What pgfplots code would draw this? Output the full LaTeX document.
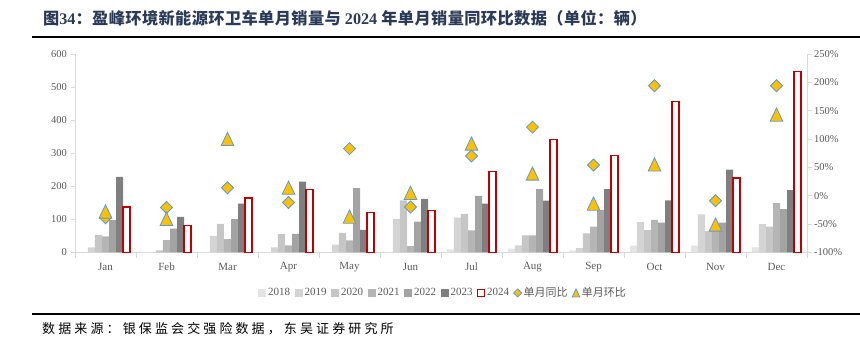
\documentclass[border=0pt]{standalone}
\usepackage{fontspec}
\setmainfont{Liberation Serif}
\newfontfamily\cjk{Noto Sans CJK SC}
\newfontfamily\cjksp[LetterSpace=24]{Noto Sans CJK SC}
\newfontfamily\cjkt[LetterSpace=2.5]{Noto Sans CJK SC}
\usepackage{pgfplots}
\usepackage{pgfplotstable}
\pgfplotsset{compat=1.18}
\definecolor{cA}{HTML}{E4E4E4}
\definecolor{cB}{HTML}{D4D4D4}
\definecolor{cC}{HTML}{C6C6C6}
\definecolor{cD}{HTML}{B5B5B5}
\definecolor{cE}{HTML}{A3A3A3}
\definecolor{cF}{HTML}{7F7F7F}
\definecolor{cred}{HTML}{C00000}
\definecolor{cgold}{HTML}{FFC000}
\definecolor{cblue}{HTML}{5B9BD5}
\definecolor{ctext}{HTML}{595959}
\definecolor{caxis}{HTML}{D9D9D9}
\definecolor{ctitle}{HTML}{2B3B57}

\pgfdeclareplotmark{etri}{%
  \pgfpathmoveto{\pgfqpoint{0pt}{\pgfplotmarksize}}%
  \pgfpathlineto{\pgfqpoint{0.96\pgfplotmarksize}{-\pgfplotmarksize}}%
  \pgfpathlineto{\pgfqpoint{-0.96\pgfplotmarksize}{-\pgfplotmarksize}}%
  \pgfpathclose
  \pgfusepathqfillstroke}
\pgfdeclareplotmark{ediam}{%
  \pgfpathmoveto{\pgfqpoint{0pt}{\pgfplotmarksize}}%
  \pgfpathlineto{\pgfqpoint{\pgfplotmarksize}{0pt}}%
  \pgfpathlineto{\pgfqpoint{0pt}{-\pgfplotmarksize}}%
  \pgfpathlineto{\pgfqpoint{-\pgfplotmarksize}{0pt}}%
  \pgfpathclose
  \pgfusepathqfillstroke}

\pgfplotstableread{
m  a  b   c   d   e   f   g   yoy mom
0  0  15  52  48  97  228 137 -39 -28
1  0  0   6   37  72  107 82  -21 -41
2  0  50  86  40  100 147 164 14  100
3  0  15  55  21  56  214 189 -12 14
4  0  23  59  36  194 68  121 83  -37
5  0  101 157 19  93  162 126 -20 5
6  9  105 116 66  171 147 244 70  92
7  11 21  51  51  191 156 341 121 39
8  5  13  57  78  128 191 293 54  -14
9  20 92  67  98  90  157 456 194 55
10 20 115 64  65  90  250 225 -9  -51
11 15 85  78  149 131 188 547 194 143
}\data

\pgfplotsset{
  base/.style={
    at={(75pt,-252.3pt)}, anchor=south west, scale only axis,
    width=732pt, height=198.3pt, xmin=0, xmax=12,
    axis line style={draw=caxis, line width=0.8pt, -},
    tick label style={font=\fontsize{10.5}{12}\selectfont, text=ctext},
    /pgf/number format/assume math mode=true,
    tick align=outside, major tick length=4.5pt,
    scaled y ticks=false,
  },
  sqleg/.style={legend image code/.code={\path[##1, draw=none] (0pt,-4pt) rectangle (8pt,4pt);}},
  rdleg/.style={legend image code/.code={\path[##1] (0.6pt,-3.4pt) rectangle (7.4pt,3.4pt);}},
  mkleg/.style={legend image code/.code={\draw[##1, mark size=4pt] plot coordinates {(4pt,0pt)};}},
}

\begin{document}
\begin{tikzpicture}
\path[use as bounding box] (0pt,0pt) rectangle (860pt,-352pt);
\node[anchor=west, text=ctitle, inner sep=0pt, font=\fontsize{16.2}{19}\selectfont\bfseries] at (43pt,-18.5pt)
  {{\cjkt 图}34{\cjkt ：盈峰环境新能源环卫车单月销量与} 2024 {\cjkt 年单月销量同环比数据（单位：辆）}};
\draw[line width=2pt, black] (32pt,-37pt) -- (860pt,-37pt);
\draw[line width=1.2pt, black] (32pt,-314pt) -- (860pt,-314pt);
\node[anchor=west, inner sep=0pt, font=\fontsize{13}{15}\selectfont] at (42pt,-329pt)
  {\cjksp 数据来源：银保监会交强险数据，东吴证券研究所};

\begin{axis}[base,
  ymin=0, ymax=600, ytick={0,100,...,600},
  axis x line*=bottom, axis y line*=left,
  xtick={0.5,1.5,...,11.5},
  xticklabels={Jan,Feb,Mar,Apr,May,Jun,Jul,Aug,Sep,Oct,Nov,Dec},
  minor xtick={0,1,...,12}, minor tick length=6pt,
  major x tick style={draw=none},
  minor x tick style={draw=caxis, line width=0.8pt},
  ytick style={draw=caxis, line width=0.8pt},
  xticklabel style={font=\fontsize{11}{13}\selectfont, anchor=center, yshift=-10.4pt},
  ybar, bar width=0.1148, bar shift=0pt,
]
\addplot[fill=cA, draw=none] table[x expr=\thisrow{m}+0.5-3*0.1148, y=a] {\data};
\addplot[fill=cB, draw=none] table[x expr=\thisrow{m}+0.5-2*0.1148, y=b] {\data};
\addplot[fill=cC, draw=none] table[x expr=\thisrow{m}+0.5-1*0.1148, y=c] {\data};
\addplot[fill=cD, draw=none] table[x expr=\thisrow{m}+0.5, y=d] {\data};
\addplot[fill=cE, draw=none] table[x expr=\thisrow{m}+0.5+1*0.1148, y=e] {\data};
\addplot[fill=cF, draw=none] table[x expr=\thisrow{m}+0.5+2*0.1148, y=f] {\data};
\addplot[fill=white, draw=cred, line width=1.3pt] table[x expr=\thisrow{m}+0.5+3*0.1148, y=g] {\data};
\end{axis}

\begin{axis}[base,
  ymin=-100, ymax=250, ytick={-100,-50,...,250},
  axis y line*=right, axis x line=none,
  yticklabel={\pgfmathprintnumber{\tick}\%},
  ytick style={draw=caxis, line width=0.8pt},
  yticklabel style={xshift=-1pt},
  legend style={at={(axis description cs:0.5027,-0.2052)}, anchor=center,
    draw=none, fill=none, legend columns=-1, text=ctext,
    font=\fontsize{11}{13}\selectfont, inner sep=0pt,
    nodes={inner xsep=2pt, inner ysep=1pt},
    /tikz/every even column/.append style={column sep=2.5pt}},
]
\addlegendimage{sqleg, fill=cA}
\addlegendimage{sqleg, fill=cB}
\addlegendimage{sqleg, fill=cC}
\addlegendimage{sqleg, fill=cD}
\addlegendimage{sqleg, fill=cE}
\addlegendimage{sqleg, fill=cF}
\addlegendimage{rdleg, fill=white, draw=cred, line width=1.3pt}
\addplot[only marks, mark=ediam, mark size=6pt, fill=cgold, draw=cblue, line width=0.8pt, mkleg]
  table[x expr=\thisrow{m}+0.5, y=yoy] {\data};
\addplot[only marks, mark=etri, mark size=6.6pt, fill=cgold, draw=cblue, line width=0.8pt, mkleg]
  table[x expr=\thisrow{m}+0.5, y=mom] {\data};
\legend{2018,2019,2020,2021,2022,2023,2024,{\cjk 单月同比},{\cjk 单月环比}}
\end{axis}
\end{tikzpicture}
\end{document}
